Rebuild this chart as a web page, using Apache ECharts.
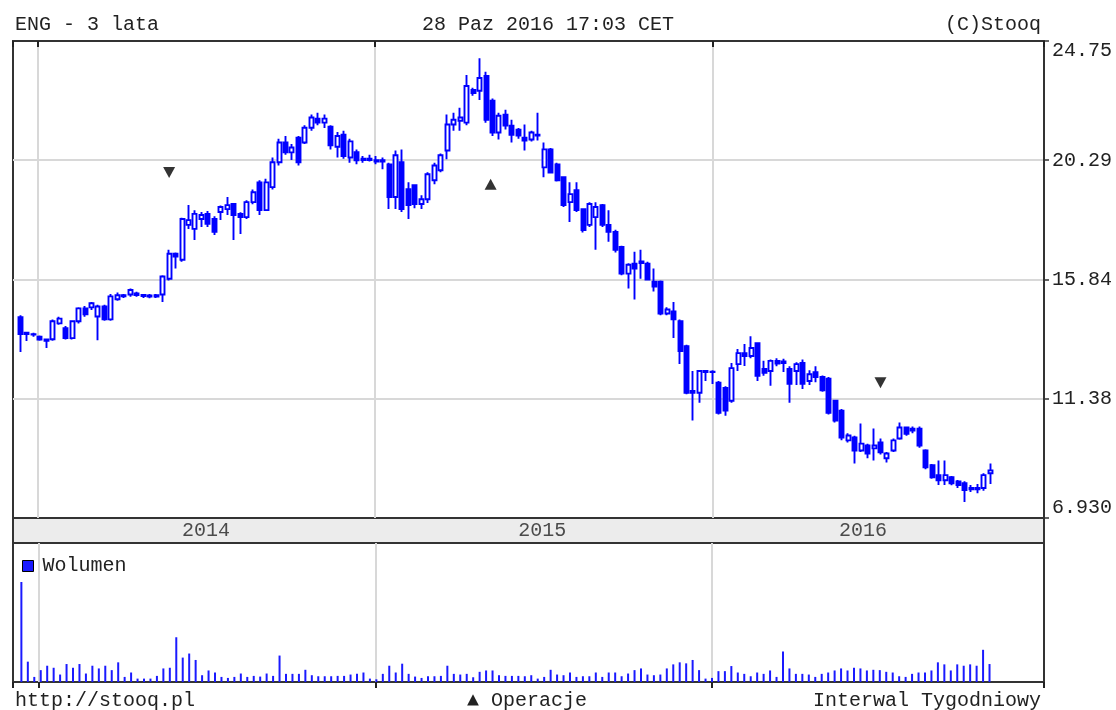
<!DOCTYPE html>
<html><head><meta charset="utf-8">
<script src="https://cdn.jsdelivr.net/npm/echarts@6/dist/echarts.min.js"></script>
<style>html,body{margin:0;padding:0;background:#fff}#c{width:1116px;height:710px}</style>
</head><body><div id="c"></div>
<script>
// ---- data (weekly candles, ENG, from 2013-12-13 every 7 days) ----
const FIRST_WEEK = [2013, 11, 13];
const WEEK_COUNT = 151;
const open = [14.43,13.85,13.80,13.70,13.60,13.61,14.20,14.02,13.65,14.28,14.76,14.80,14.46,14.83,14.35,15.10,15.25,15.28,15.32,15.26,15.24,15.20,15.28,15.87,16.80,16.58,17.88,17.73,18.10,18.29,18.10,18.36,18.47,18.66,18.29,18.17,18.73,19.47,18.43,19.29,20.22,20.96,20.59,21.14,20.96,21.51,21.85,21.70,21.55,20.80,21.25,20.40,20.60,20.30,20.35,20.30,20.30,20.14,18.92,20.22,19.21,19.36,18.66,18.84,19.55,19.92,20.66,21.63,21.77,21.70,22.92,22.89,23.44,22.52,21.33,22.00,21.59,21.44,21.14,21.07,21.25,20.03,20.70,20.14,19.66,18.73,19.18,18.47,17.88,18.17,18.62,17.88,17.62,17.06,16.06,16.43,16.45,16.43,15.76,15.76,14.57,14.65,14.28,13.35,11.61,11.61,12.42,12.40,11.98,11.79,11.31,12.68,13.09,12.98,13.46,12.50,12.42,12.80,12.72,12.50,12.42,12.72,12.05,12.38,12.20,12.13,11.31,10.94,9.83,9.94,9.45,9.64,9.53,9.75,9.16,9.45,9.90,10.31,10.20,10.27,9.45,8.90,8.53,8.34,8.45,8.30,8.23,8.00,8.05,8.05,8.60];
const close = [13.80,13.80,13.78,13.60,13.55,14.28,14.38,13.65,14.28,14.76,14.54,14.95,14.83,14.35,15.21,15.25,15.21,15.45,15.26,15.22,15.20,15.25,15.95,16.80,16.70,18.10,18.06,18.29,18.25,17.92,17.62,18.55,18.62,18.25,18.17,18.73,19.10,18.43,19.47,20.22,20.96,20.59,20.77,20.22,21.51,21.89,21.70,21.85,20.85,21.20,20.45,21.00,20.29,20.35,20.30,20.25,20.25,18.92,20.48,18.47,18.62,18.66,18.84,19.77,20.10,20.48,21.63,21.81,21.89,23.07,22.81,23.37,21.81,21.33,21.96,21.59,21.25,21.22,21.03,21.33,21.22,20.70,19.84,19.55,18.62,19.03,18.43,17.69,18.66,18.55,17.88,17.62,16.95,16.06,16.39,16.25,16.51,15.84,15.58,14.57,14.72,14.35,13.17,11.61,11.68,12.42,12.38,12.38,10.86,10.94,12.53,13.09,12.98,13.28,12.24,12.35,12.80,12.70,12.78,11.94,12.68,11.94,12.30,12.20,11.70,10.86,10.57,9.94,10.01,9.45,9.71,9.34,9.64,9.38,9.34,9.83,10.31,10.08,10.27,9.64,8.82,8.45,8.34,8.53,8.23,8.16,7.97,8.05,8.00,8.53,8.71];
const low = [13.13,13.54,13.70,13.55,13.28,13.55,14.15,13.60,13.60,14.20,14.45,14.70,13.57,14.30,14.30,15.05,15.15,15.20,15.20,15.15,15.14,15.15,15.00,15.80,16.25,16.50,17.73,17.32,17.80,17.80,17.50,18.06,18.25,17.32,17.54,18.10,18.65,18.25,18.40,19.20,20.10,20.50,20.30,20.10,20.90,21.40,21.60,21.50,20.70,20.40,20.35,20.20,20.15,20.20,20.25,20.15,19.96,18.47,18.47,18.36,18.10,18.50,18.47,18.70,19.40,19.85,20.33,21.40,21.40,21.60,22.70,22.55,21.70,21.20,21.07,21.44,20.96,21.10,20.66,21.00,21.03,19.66,19.80,19.50,18.55,17.99,18.36,17.60,17.80,16.95,17.80,17.25,16.85,16.00,15.50,15.09,15.87,15.80,15.39,14.50,14.50,13.65,12.68,11.55,10.57,11.24,12.05,11.94,10.80,10.75,11.24,12.42,12.61,12.90,12.05,12.24,11.87,12.60,12.38,11.24,11.90,11.75,11.90,12.00,11.65,10.80,10.50,9.83,9.75,8.97,9.40,9.16,9.08,9.30,9.00,9.40,9.85,10.00,10.10,9.55,8.75,8.40,8.16,8.16,8.15,8.05,7.53,7.90,7.85,7.95,8.20];
const high = [14.50,13.87,13.85,13.75,13.62,14.35,14.45,14.10,14.30,14.80,14.85,15.00,14.90,14.90,15.30,15.35,15.30,15.50,15.38,15.30,15.30,15.30,16.00,16.95,16.85,18.15,18.62,18.43,18.36,18.40,18.20,18.60,18.92,18.70,18.35,18.80,19.20,19.55,19.60,20.40,21.10,21.20,20.90,21.20,21.60,22.00,22.07,22.00,21.60,21.35,21.40,21.10,20.70,20.45,20.50,20.45,20.40,20.20,20.66,20.70,19.47,19.40,18.99,19.85,20.20,20.55,22.00,22.07,22.26,23.48,23.00,24.11,23.60,22.60,22.07,22.18,21.81,21.50,21.63,21.40,22.07,20.96,20.75,20.20,19.70,19.47,19.47,18.50,18.73,18.73,18.66,18.43,17.70,17.10,16.45,16.88,16.95,16.50,16.25,15.80,14.80,15.00,14.35,13.40,12.42,12.45,12.45,12.45,12.05,11.85,12.72,13.24,13.43,13.72,13.50,12.80,12.85,12.90,12.88,12.60,12.75,12.85,12.45,12.60,12.25,12.20,11.35,11.00,10.10,10.00,10.46,9.70,10.27,9.90,9.40,9.90,10.50,10.35,10.35,10.35,9.50,8.95,9.08,9.08,8.50,8.35,8.30,8.16,8.20,8.60,8.97];
const volume = [295,60,15,35,48,42,22,53,42,53,25,48,40,48,35,58,15,28,10,10,10,18,40,42,132,72,84,65,20,34,28,15,12,15,25,15,18,16,25,18,78,24,24,24,36,20,17,17,17,18,18,22,24,28,10,8,24,48,28,54,24,16,12,17,17,18,48,24,22,24,14,30,34,34,20,18,18,18,17,20,10,15,36,22,
  20,28,15,17,17,28,15,28,28,17,25,35,40,22,20,22,40,52,58,55,65,35,10,12,32,32,47,28,24,17,28,24,34,15,90,40,24,24,22,15,24,28,34,40,34,42,40,34,36,35,30,28,17,15,24,28,28,34,58,52,34,52,48,52,48,95,53];
const priceTicks = ['6.930','11.38','15.84','20.29','24.75'];
const yearLabels = ['2014','2015','2016'];
const yearLabelDates = ['2014-07-02','2015-07-01','2016-06-12'];
const opsDown = [['2014-05-23', 19.84], ['2016-07-01', 11.98]];
const opsUp = [['2015-05-06', 19.40]];

// ---- build ----
const weeks = [];
for (let i = 0; i < WEEK_COUNT; i++) {
  weeks.push(new Date(FIRST_WEEK[0], FIRST_WEEK[1], FIRST_WEEK[2] + 7 * i).getTime());
}
const candles = weeks.map((t, i) => [t, open[i], close[i], low[i], high[i]]);
const vols = weeks.map((t, i) => [t, volume[i]]);
const X_MIN = new Date(2013, 11, 5).getTime();
const X_MAX = new Date(2016, 11, 25).getTime();
const FONT = 'Liberation Mono';
const TXT = {fontFamily: FONT, fontSize: 20, color: '#222', fontWeight: 'normal'};
const YEAR = 365 * 864e5;
const L = 13, W = 1031;

function timeAxis(grid, withSplit) {
  return {
    type: 'time', gridIndex: grid, min: X_MIN, max: X_MAX,
    minInterval: YEAR, maxInterval: YEAR + 864e5, position: 'top',
    axisLine: {show: false},
    axisTick: {show: withSplit, inside: true, length: 6, lineStyle: {color: '#222', width: 2}},
    axisLabel: {show: false},
    splitLine: {show: withSplit, showMinLine: false, showMaxLine: false, lineStyle: {color: '#d8d8d8', width: 2}}
  };
}

const chart = echarts.init(document.getElementById('c'), null, {renderer: 'canvas'});
chart.setOption({
  animation: false,
  backgroundColor: '#fff',
  title: [
    {text: 'ENG - 3 lata', left: 10, top: 10, textStyle: TXT},
    {text: '28 Paz 2016 17:03 CET', left: 417, top: 10, textStyle: TXT},
    {text: '(C)Stooq', right: 70, top: 10, textStyle: TXT},
    {text: 'http://stooq.pl', left: 10, top: 686, textStyle: TXT},
    {text: '▲ Operacje', left: 462, top: 686, textStyle: TXT},
    {text: 'Interwal Tygodniowy', right: 70, top: 686, textStyle: TXT}
  ],
  legend: {
    data: ['Wolumen'], left: 22, top: 556, icon: 'rect', itemWidth: 11, itemHeight: 11, itemGap: 4,
    itemStyle: {borderColor: '#000', borderWidth: 1},
    textStyle: Object.assign({padding: [0, 0, 0, 4]}, TXT), padding: 0
  },
  grid: [
    {left: L, top: 41, width: W, height: 477, show: true, borderColor: '#333', borderWidth: 2, backgroundColor: '#fff', outerBoundsMode: 'none'},
    {left: L, top: 518, width: W, height: 25, show: true, borderColor: '#333', borderWidth: 2, backgroundColor: '#ececec', outerBoundsMode: 'none'},
    {left: L, top: 543, width: W, height: 139, show: true, borderColor: '#333', borderWidth: 2, backgroundColor: '#fff', outerBoundsMode: 'none'}
  ],
  xAxis: [timeAxis(0, true), timeAxis(1, false), timeAxis(2, true)],
  yAxis: [
    {type: 'value', gridIndex: 0, position: 'right', min: 6.93, max: 24.75, interval: 4.455,
      axisLine: {show: true, lineStyle: {color: '#333', width: 2}},
      axisTick: {show: true, length: 5, lineStyle: {color: '#333', width: 1.5}},
      splitLine: {show: true, showMinLine: false, showMaxLine: false, lineStyle: {color: '#d8d8d8', width: 2}},
      axisLabel: Object.assign({margin: 8, formatter: (v, i) => priceTicks[i] !== undefined ? priceTicks[i] : '',
        verticalAlignMinLabel: 'bottom', verticalAlignMaxLabel: 'top'}, TXT)},
    {type: 'value', gridIndex: 1, min: 0, max: 1, show: false},
    {type: 'value', gridIndex: 2, min: 0, max: 410, show: false}
  ],
  series: [
    {type: 'candlestick', name: 'ENG', xAxisIndex: 0, yAxisIndex: 0, data: candles, barWidth: 4.5,
      itemStyle: {color: '#ffffff', color0: '#0000ff', borderColor: '#0000ff', borderColor0: '#0000ff', borderWidth: 1.9},
      emphasis: {disabled: true}},
    {type: 'scatter', name: 'opsDown', xAxisIndex: 0, yAxisIndex: 0, data: opsDown, symbol: 'triangle',
      symbolRotate: 180, symbolSize: [12, 11], itemStyle: {color: '#000'}, silent: true},
    {type: 'scatter', name: 'opsUp', xAxisIndex: 0, yAxisIndex: 0, data: opsUp, symbol: 'triangle',
      symbolSize: [12, 11], itemStyle: {color: '#000'}, silent: true},
    {type: 'scatter', name: 'years', xAxisIndex: 1, yAxisIndex: 1, symbolSize: 0, silent: true,
      data: yearLabelDates.map((d, i) => ({name: yearLabels[i], value: [d, 0.5]})),
      label: Object.assign({show: true, position: 'inside', formatter: '{b}'}, TXT)},
    {type: 'bar', name: 'Wolumen', xAxisIndex: 2, yAxisIndex: 2, data: vols, barWidth: 2,
      itemStyle: {color: '#1a1aff'}, emphasis: {disabled: true}}
  ]
});
</script>
</body></html>
